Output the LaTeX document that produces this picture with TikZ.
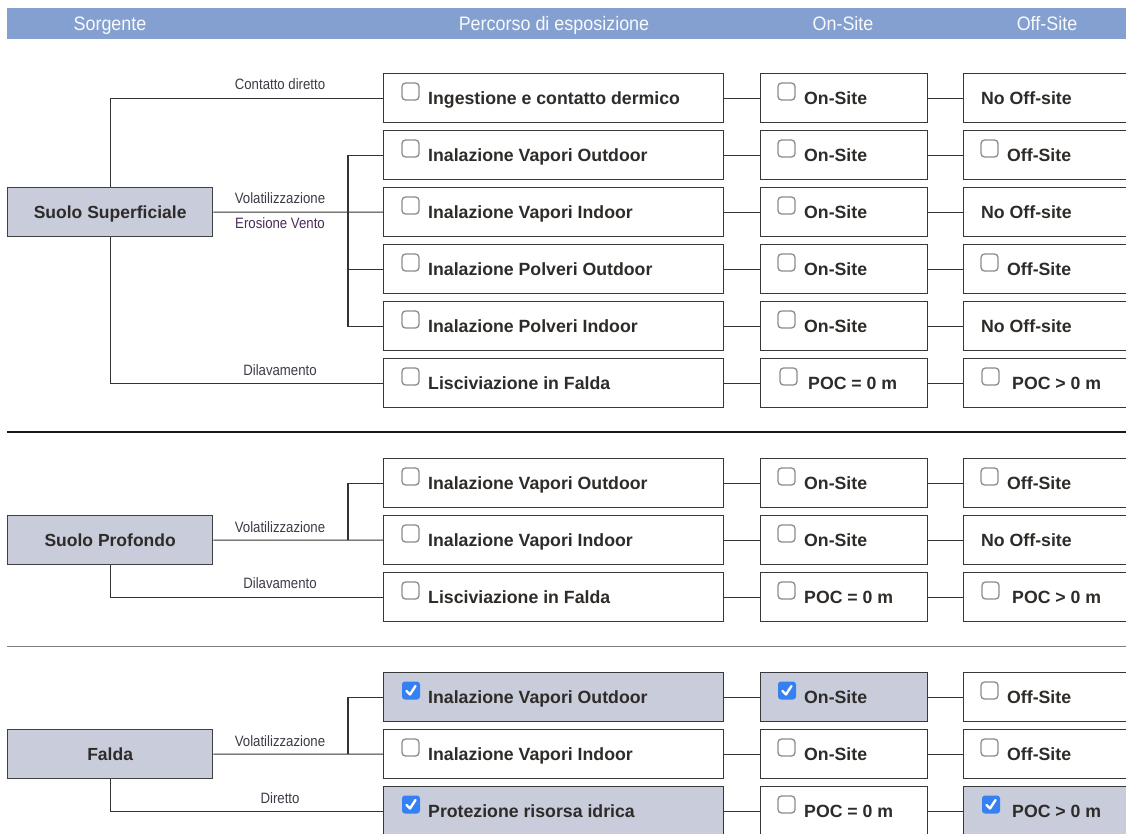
\documentclass[tikz,border=0pt]{standalone}
\usepackage{fontspec}
\setmainfont{Liberation Sans}
\newfontfamily\narrowf[FakeStretch=0.88]{Liberation Sans}
\newfontfamily\headf[FakeStretch=0.92]{Liberation Sans}
\definecolor{hdrcol}{HTML}{84A0D0}
\definecolor{hlcol}{HTML}{C8CCDB}
\definecolor{cbblue}{HTML}{3580F2}
\definecolor{lblcol}{HTML}{3C3C48}
\definecolor{purp}{HTML}{4A2E58}
\definecolor{txtcol}{HTML}{2E2B28}
\tikzset{
  boxbase/.style={draw=black!78, line width=1.1pt, inner sep=0pt, anchor=north west, minimum height=49pt},
  pw/.style={boxbase, minimum width=340pt},
  onb/.style={boxbase, minimum width=167pt},
  offb/.style={boxbase, minimum width=190pt},
  src/.style={boxbase, draw=black!75, line width=1.3pt, fill=hlcol, minimum width=205pt, font=\bfseries\fontsize{17.5}{20}\selectfont, text=txtcol, text height=12.5pt, text depth=0pt},
  hl/.style={fill=hlcol},
  txt/.style={anchor=west, inner sep=0pt, font=\bfseries\fontsize{17.7}{20}\selectfont, text=txtcol, text height=12.7pt, text depth=0pt},
  lbl/.style={inner sep=0pt, font=\narrowf\fontsize{15}{17}\selectfont, text=lblcol, text height=10.7pt, text depth=0pt},
  hdrtxt/.style={inner sep=0pt, font=\headf\fontsize{19.5}{22}\selectfont, text=white!94!hdrcol, text height=14pt, text depth=0pt},
  conn/.style={draw=black!80, line width=1.1pt},
  cbx/.style={draw=black!45, line width=1.3pt, fill=white, rounded corners=3.5pt},
}
\newcommand{\chk}[2][18]{\draw[cbx] ([shift={(#1,10)}]#2.north west) rectangle ++(17,17);}
\newcommand{\chkd}[2][18]{%
  \fill[cbblue, rounded corners=3pt] ([shift={(#1,9.5)}]#2.north west) rectangle ++(18,18);
  \draw[white, line width=2.4pt, line cap=round, line join=round]
    ([shift={(#1+4.5,9.5+9.5)}]#2.north west) -- ++(3.5,3.5) -- ++(5.5,-8.5);}
\begin{document}
\begin{tikzpicture}[x=1pt,y=-1pt]
\useasboundingbox (0,0) rectangle (1126,833);
\clip (0,0) rectangle (1126,833);
\fill[white] (0,0) rectangle (1126,833);
% header
\node[fill=hdrcol, inner sep=0pt, anchor=north west, minimum width=1119pt, minimum height=31pt] (hdr) at (7,8) {};
\node[hdrtxt] (h1) at (110,23.5) {Sorgente};
\node[hdrtxt] (h2) at (554,23.5) {Percorso di esposizione};
\node[hdrtxt] (h3) at (843,23.5) {On-Site};
\node[hdrtxt] (h4) at (1047,23.5) {Off-Site};

% ===== Section 1 =====
\node[src] (s1) at (7,187) {Suolo Superficiale};
\foreach \i/\y in {1/73,2/130,3/187,4/244,5/301,6/358}{
  \node[pw] (p\i) at (383,\y) {};
  \node[onb] (o\i) at (760,\y) {};
  \node[offb] (f\i) at (963,\y) {};
  \draw[conn] (p\i.east) -- (o\i.west);
  \draw[conn] (o\i.east) -- (f\i.west);
}
\foreach \i/\t in {1/Ingestione e contatto dermico,2/Inalazione Vapori Outdoor,3/Inalazione Vapori Indoor,4/Inalazione Polveri Outdoor,5/Inalazione Polveri Indoor,6/Lisciviazione in Falda}{
  \chk[19]{p\i}
  \node[txt] (pt\i) at ([xshift=45pt]p\i.west) {\t};
}
\foreach \i in {1,...,5}{
  \chk{o\i}
  \node[txt] (ot\i) at ([xshift=44pt]o\i.west) {On-Site};
}
\chk[20]{o6}
\node[txt] (ot6) at ([xshift=48pt]o6.west) {POC = 0 m};
\node[txt] (ft1) at ([xshift=18pt]f1.west) {No Off-site};
\chk{f2}\node[txt] (ft2) at ([xshift=44pt]f2.west) {Off-Site};
\node[txt] (ft3) at ([xshift=18pt]f3.west) {No Off-site};
\chk{f4}\node[txt] (ft4) at ([xshift=44pt]f4.west) {Off-Site};
\node[txt] (ft5) at ([xshift=18pt]f5.west) {No Off-site};
\chk[19]{f6}\node[txt] (ft6) at ([xshift=49pt]f6.west) {POC > 0 m};

\coordinate (b1) at (348,0);
\draw[conn] (s1.north) |- (p1.west);
\draw[conn] (s1.east) -- (p3.west);
\draw[conn] (p2.west) -| (b1 |- p5.west) -- (p5.west);
\draw[conn] (b1 |- p4.west) -- (p4.west);
\draw[conn] (s1.south) |- (p6.west);
\node[lbl] (l1) at (280,84) {Contatto diretto};
\node[lbl] (l2) at (280,198) {Volatilizzazione};
\node[lbl, text=purp] (l3) at (280,223) {Erosione Vento};
\node[lbl] (l4) at (280,370) {Dilavamento};

% separator
\coordinate (sepa) at (7,432);
\coordinate (sepb) at (1126,432);
\draw[black!90, line width=2pt] (sepa) -- (sepb);

% ===== Section 2 =====
\node[src] (s2) at (7,515) {Suolo Profondo};
\foreach \i/\y in {1/458,2/515,3/572}{
  \node[pw] (q\i) at (383,\y) {};
  \node[onb] (r\i) at (760,\y) {};
  \node[offb] (g\i) at (963,\y) {};
  \draw[conn] (q\i.east) -- (r\i.west);
  \draw[conn] (r\i.east) -- (g\i.west);
}
\chk[19]{q1}\node[txt] (qt1) at ([xshift=45pt]q1.west) {Inalazione Vapori Outdoor};
\chk[19]{q2}\node[txt] (qt2) at ([xshift=45pt]q2.west) {Inalazione Vapori Indoor};
\chk[19]{q3}\node[txt] (qt3) at ([xshift=45pt]q3.west) {Lisciviazione in Falda};
\chk{r1}\node[txt] (rt1) at ([xshift=44pt]r1.west) {On-Site};
\chk{r2}\node[txt] (rt2) at ([xshift=44pt]r2.west) {On-Site};
\chk{r3}\node[txt] (rt3) at ([xshift=44pt]r3.west) {POC = 0 m};
\chk{g1}\node[txt] (gt1) at ([xshift=44pt]g1.west) {Off-Site};
\node[txt] (gt2) at ([xshift=18pt]g2.west) {No Off-site};
\chk[19]{g3}\node[txt] (gt3) at ([xshift=49pt]g3.west) {POC > 0 m};

\draw[conn] (s2.east) -- (q2.west);
\draw[conn] (q1.west) -| (b1 |- q2.west);
\draw[conn] (s2.south) |- (q3.west);
\node[lbl] (m1) at (280,527) {Volatilizzazione};
\node[lbl] (m2) at (280,583) {Dilavamento};

% separator 2
\coordinate (sepc) at (7,646);
\coordinate (sepd) at (1126,646);
\draw[black!50, line width=1pt] (sepc) -- (sepd);

% ===== Section 3 =====
\node[src] (s3) at (7,729) {Falda};
\node[pw, hl] (u1) at (383,672) {};
\node[pw] (u2) at (383,729) {};
\node[pw, hl] (u3) at (383,786) {};
\node[onb, hl] (v1) at (760,672) {};
\node[onb] (v2) at (760,729) {};
\node[onb] (v3) at (760,786) {};
\node[offb] (w1) at (963,672) {};
\node[offb] (w2) at (963,729) {};
\node[offb, hl] (w3) at (963,786) {};
\foreach \i in {1,2,3}{
  \draw[conn] (u\i.east) -- (v\i.west);
  \draw[conn] (v\i.east) -- (w\i.west);
}
\chkd[19]{u1}\node[txt] (ut1) at ([xshift=45pt]u1.west) {Inalazione Vapori Outdoor};
\chk[19]{u2}\node[txt] (ut2) at ([xshift=45pt]u2.west) {Inalazione Vapori Indoor};
\chkd[19]{u3}\node[txt] (ut3) at ([xshift=45pt]u3.west) {Protezione risorsa idrica};
\chkd{v1}\node[txt] (vt1) at ([xshift=44pt]v1.west) {On-Site};
\chk{v2}\node[txt] (vt2) at ([xshift=44pt]v2.west) {On-Site};
\chk{v3}\node[txt] (vt3) at ([xshift=44pt]v3.west) {POC = 0 m};
\chk{w1}\node[txt] (wt1) at ([xshift=44pt]w1.west) {Off-Site};
\chk{w2}\node[txt] (wt2) at ([xshift=44pt]w2.west) {Off-Site};
\chkd[19]{w3}\node[txt] (wt3) at ([xshift=49pt]w3.west) {POC > 0 m};

\draw[conn] (s3.east) -- (u2.west);
\draw[conn] (u1.west) -| (b1 |- u2.west);
\draw[conn] (s3.south) |- (u3.west);
\node[lbl] (n1) at (280,741) {Volatilizzazione};
\node[lbl] (n2) at (280,798) {Diretto};
\end{tikzpicture}
\end{document}
